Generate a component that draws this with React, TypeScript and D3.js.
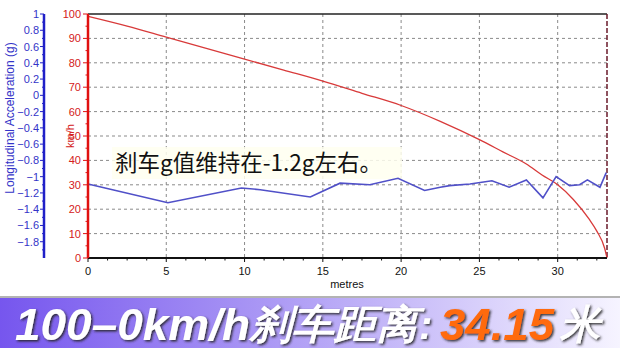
import React from "react";
import * as d3 from "d3";

const speedDist = [0, 2.5, 5, 7.5, 10, 12.5, 15, 17.5, 20, 22.5, 25, 26.5, 28, 29, 30, 31, 32, 32.5, 33, 33.15];
const speedVals = [99, 95, 90.5, 86, 81.5, 77, 72.5, 67.5, 62.5, 56, 48.5, 43.5, 38.5, 34, 30, 24, 16, 11, 4, 0];

const gDist = [0, 5.1, 9.8, 11.0, 14.2, 16.1, 18.0, 19.8, 21.5, 22.5, 23.1, 24.4, 25.8, 26.9, 28.0, 29.06, 29.9, 30.76, 31.4, 31.9, 32.7, 33.1];
const gVals = [-1.09, -1.32, -1.14, -1.16, -1.25, -1.08, -1.1, -1.02, -1.17, -1.13, -1.11, -1.09, -1.05, -1.13, -1.04, -1.26, -1.0, -1.11, -1.1, -1.04, -1.13, -0.95];

const xTicks = [0, 5, 10, 15, 20, 25, 30];
const speedTicks = [0, 10, 20, 30, 40, 50, 60, 70, 80, 90, 100];
const gTicks = [1, 0.8, 0.6, 0.4, 0.2, 0, -0.2, -0.4, -0.6, -0.8, -1, -1.2, -1.4, -1.6, -1.8];

const annotation = "刹车g值维持在-1.2g左右。";
const xTitle = "metres";
const speedTitle = "km/h";
const gTitle = "Longitudinal Acceleration (g)";

export default function App() {
  const x = d3.scaleLinear().domain([0, 33.15]).range([88, 607]);
  const yS = d3.scaleLinear().domain([0, 100]).range([258, 14]);
  const yG = d3.scaleLinear().domain([-2, 1]).range([258, 14]);

  const speedLine = d3.line<number>().x((_, i) => x(speedDist[i])).y((d) => yS(d)).curve(d3.curveMonotoneX);
  const gLine = d3.line<number>().x((_, i) => x(gDist[i])).y((d) => yG(d));

  const minorX = d3.range(0, 33.15, 1.25).filter((v) => Math.abs(v % 5) > 0.01);
  const minorS = d3.range(5, 100, 10);
  const minorG = d3.range(-1.9, 1, 0.2);

  const font = "'Liberation Sans', Arial, sans-serif";
  const blue = "#3434c8";
  const red = "#d42020";

  return (
    <svg width={620} height={348} style={{ position: "absolute", left: 0, top: 0, background: "#fff" }} fontFamily={font}>
      <defs>
        <linearGradient id="ban" x1="0" x2="1" y1="0" y2="0">
          <stop offset="0" stopColor="#7656ee" />
          <stop offset="0.45" stopColor="#ad9bf5" />
          <stop offset="1" stopColor="#f6f4ff" />
        </linearGradient>
        <filter id="sh" x="-5%" y="-20%" width="110%" height="140%">
          <feDropShadow dx="1.5" dy="1.5" stdDeviation="0.8" floodColor="#222" floodOpacity="0.9" />
        </filter>
      </defs>
      <rect x={0} y={0} width={620} height={348} fill="#fff" />

      {/* grid */}
      {xTicks.filter((t) => t > 0).map((t) => (
        <line key={"gx" + t} x1={x(t)} x2={x(t)} y1={14} y2={258} stroke="#8a8a8a" strokeDasharray="3,3" strokeWidth={1} />
      ))}
      {speedTicks.filter((t) => t > 0 && t < 100).map((t) => (
        <line key={"gy" + t} x1={88} x2={607} y1={yS(t)} y2={yS(t)} stroke="#8a8a8a" strokeDasharray="3,3" strokeWidth={1} />
      ))}

      {/* annotation */}
      <rect x={112} y={147} width={290} height={32} fill="#fffff0" opacity={0.85} />
      <text x={115} y={171} fontSize={22.5} fontFamily="'Noto Sans CJK SC', sans-serif" fill="#111">{annotation}</text>

      {/* borders */}
      <line x1={88} x2={607} y1={14} y2={14} stroke="#222" strokeWidth={1.5} />
      <line x1={607} x2={607} y1={14} y2={258} stroke="#6a1a2a" strokeWidth={1.5} strokeDasharray="5,2" />

      {/* series */}
      <path d={speedLine(speedVals) || ""} fill="none" stroke="#d83a3a" strokeWidth={1.3} />
      <path d={gLine(gVals) || ""} fill="none" stroke="#5050c8" strokeWidth={1.6} />

      {/* x axis */}
      <line x1={88} x2={607} y1={258} y2={258} stroke="#111" strokeWidth={2} />
      {xTicks.map((t) => (
        <g key={"xt" + t}>
          <line x1={x(t)} x2={x(t)} y1={258} y2={262} stroke="#111" />
          <text x={x(t)} y={275} fontSize={11} textAnchor="middle" fill="#111">{t}</text>
        </g>
      ))}
      {minorX.map((t) => (
        <line key={"mx" + t} x1={x(t)} x2={x(t)} y1={258} y2={260.5} stroke="#111" />
      ))}
      <text x={347} y={288} fontSize={11} textAnchor="middle" fill="#111">{xTitle}</text>

      {/* speed axis */}
      <line x1={88} x2={88} y1={14} y2={258} stroke="#e01010" strokeWidth={2.5} />
      {speedTicks.map((t) => (
        <g key={"st" + t}>
          <line x1={83} x2={88} y1={yS(t)} y2={yS(t)} stroke="#e01010" />
          <text x={81} y={yS(t) + 4} fontSize={11} textAnchor="end" fill={red}>{t}</text>
        </g>
      ))}
      {minorS.map((t) => (
        <line key={"ms" + t} x1={85.5} x2={88} y1={yS(t)} y2={yS(t)} stroke="#e01010" />
      ))}
      <text transform={`translate(74,${yS(50)}) rotate(-90)`} fontSize={11} textAnchor="middle" fill={red}>{speedTitle}</text>

      {/* g axis */}
      <line x1={44} x2={44} y1={14} y2={258} stroke="#2020c8" strokeWidth={2.5} />
      {gTicks.map((t) => (
        <g key={"gt" + t}>
          <line x1={40} x2={44} y1={yG(t)} y2={yG(t)} stroke="#2020c8" />
          <text x={39} y={yG(t) + 4} fontSize={11} textAnchor="end" fill={blue}>{d3.format("")(+t.toFixed(1))}</text>
        </g>
      ))}
      {minorG.map((t) => (
        <line key={"mg" + t} x1={42} x2={44} y1={yG(t)} y2={yG(t)} stroke="#2020c8" />
      ))}
      <text transform={`translate(14,118) rotate(-90)`} fontSize={12} textAnchor="middle" fill={blue}>{gTitle}</text>

      {/* banner */}
      <line x1={0} x2={620} y1={297} y2={297} stroke="#9a9a9a" strokeWidth={1.5} />
      <rect x={0} y={298} width={620} height={50} fill="url(#ban)" />
      <g fontStyle="italic" fontWeight="bold" filter="url(#sh)">
        <text x={15} y={340} fontSize={44} fill="#fff" textLength={235} lengthAdjust="spacingAndGlyphs">100–0km/h</text>
        <text x={250} y={338} fontSize={40} fill="#fff" textLength={168} lengthAdjust="spacingAndGlyphs">刹车距离</text>
        <text x={419} y={339} fontSize={40} fill="#fff">:</text>
        <text x={440} y={340} fontSize={44} fill="#ff6a10" textLength={114} lengthAdjust="spacingAndGlyphs">34.15</text>
        <text x={560} y={338} fontSize={40} fill="#fff">米</text>
      </g>
    </svg>
  );
}
